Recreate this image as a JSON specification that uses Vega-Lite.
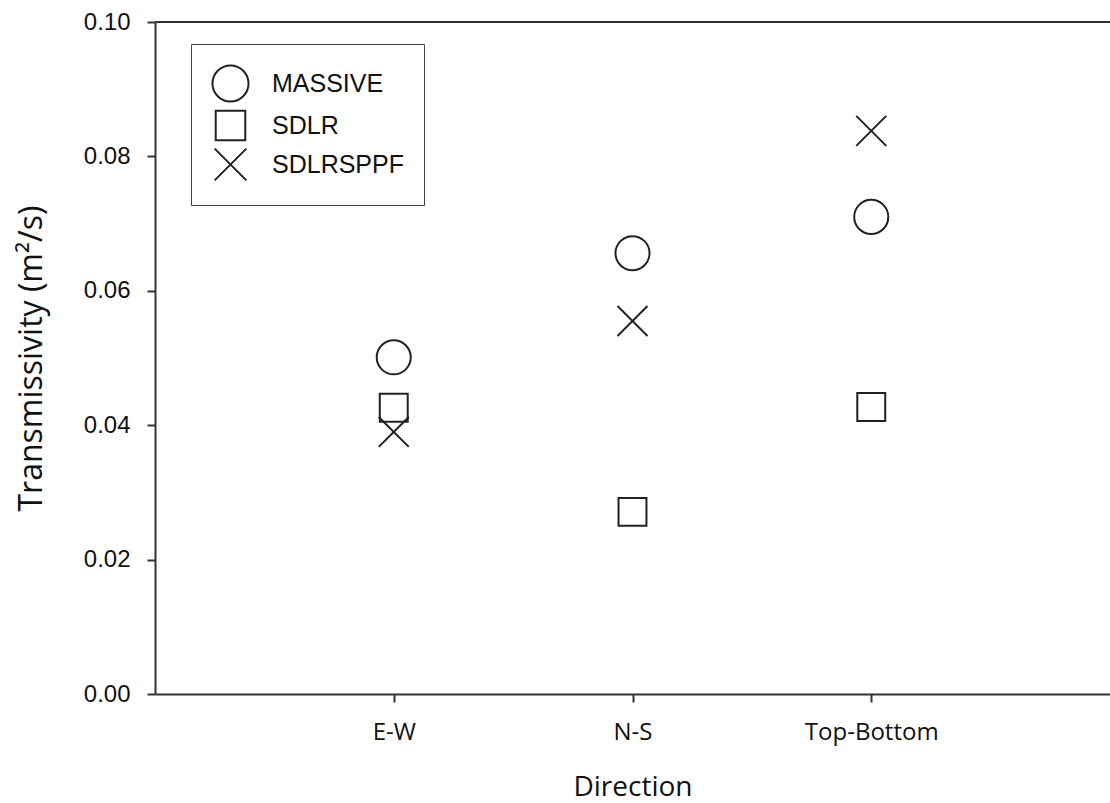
{
  "$schema": "https://vega.github.io/schema/vega-lite/v6.json",
  "width": 955,
  "height": 672,
  "autosize": {"type": "none"},
  "padding": {"left": 155, "top": 22, "right": 0, "bottom": 109},
  "background": "white",
  "config": {
    "view": {"stroke": null},
    "axis": {
      "domainColor": "#333333",
      "domainWidth": 2,
      "tickColor": "#333333",
      "tickWidth": 2,
      "tickSize": 8,
      "grid": false,
      "labelColor": "#111111",
      "titleColor": "#111111",
      "titleFontWeight": "normal"
    }
  },
  "data": {
    "values": [
      {"direction": "E-W", "model": "MASSIVE", "T": 0.0501},
      {"direction": "E-W", "model": "SDLR", "T": 0.0426},
      {"direction": "E-W", "model": "SDLRSPPF", "T": 0.0390},
      {"direction": "N-S", "model": "MASSIVE", "T": 0.0656},
      {"direction": "N-S", "model": "SDLR", "T": 0.0271},
      {"direction": "N-S", "model": "SDLRSPPF", "T": 0.0555},
      {"direction": "Top-Bottom", "model": "MASSIVE", "T": 0.0710},
      {"direction": "Top-Bottom", "model": "SDLR", "T": 0.0427},
      {"direction": "Top-Bottom", "model": "SDLRSPPF", "T": 0.0838}
    ]
  },
  "layer": [
    {
      "mark": {"type": "point", "filled": false, "size": 1160, "strokeWidth": 2, "color": "#222222", "opacity": 1},
      "encoding": {
        "x": {
          "field": "direction",
          "type": "nominal",
          "scale": {"type": "point", "padding": 1},
          "axis": {
            "title": "Direction",
            "labelAngle": 0,
            "labelFont": "Open Sans",
            "labelFontSize": 24,
            "labelPadding": 18,
            "titleFont": "Open Sans",
            "titleFontSize": 28,
            "titlePadding": 29
          }
        },
        "y": {
          "field": "T",
          "type": "quantitative",
          "scale": {"domain": [0, 0.1], "nice": false, "zero": true},
          "axis": {
            "title": "Transmissivity (m²/s)",
            "values": [0, 0.02, 0.04, 0.06, 0.08, 0.1],
            "format": ".2f",
            "labelFont": "Liberation Sans",
            "labelFontSize": 24,
            "labelPadding": 17,
            "titleFont": "Open Sans",
            "titleFontSize": 32,
            "titlePadding": 35
          }
        },
        "shape": {
          "field": "model",
          "type": "nominal",
          "scale": {
            "domain": ["MASSIVE", "SDLR", "SDLRSPPF"],
            "range": ["circle", "M-0.82,-0.82H0.82V0.82H-0.82Z", "M-0.88,-0.88L0.88,0.88M-0.88,0.88L0.88,-0.88"]
          },
          "legend": {
            "title": null,
            "orient": "none",
            "legendX": 36,
            "legendY": 22,
            "padding": 20,
            "strokeColor": "#444444",
            "fillColor": "white",
            "symbolSize": 1300,
            "symbolStrokeWidth": 2,
            "symbolStrokeColor": "#222222",
            "symbolFillColor": "transparent",
            "labelFont": "Liberation Sans",
            "labelFontSize": 25,
            "labelColor": "#111111",
            "labelOffset": 22,
            "rowPadding": -3
          }
        }
      }
    },
    {
      "mark": {"type": "rule", "color": "#333333", "strokeWidth": 2},
      "encoding": {"y": {"datum": 0.1}}
    }
  ]
}
